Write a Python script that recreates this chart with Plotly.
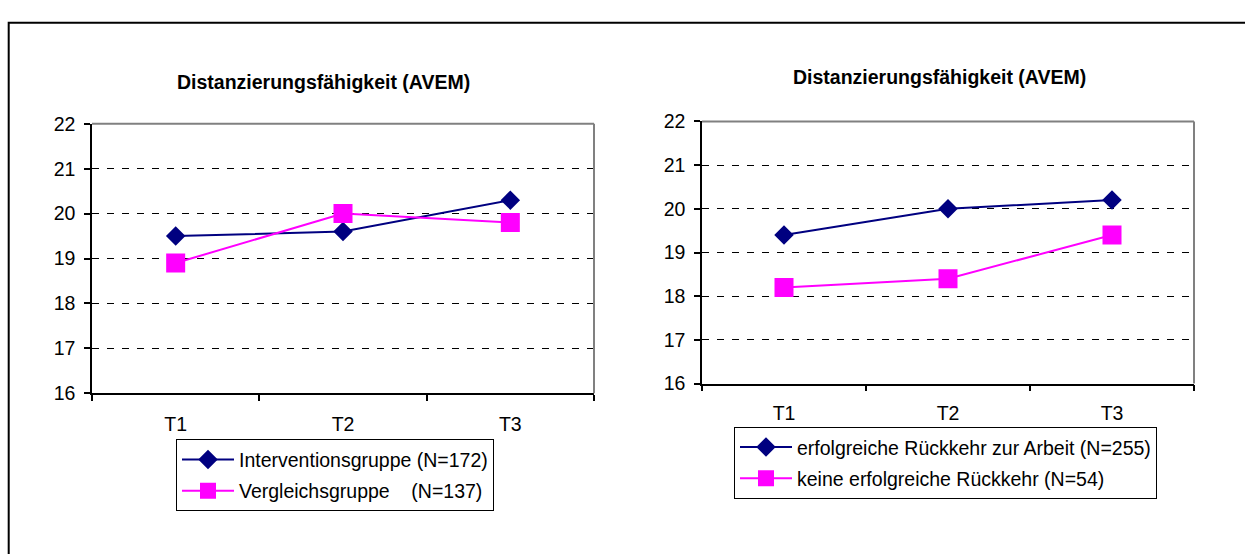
import plotly.graph_objects as go

W, H = 1245, 554

categories = ["T1", "T2", "T3"]
title_text = "Distanzierungsfähigkeit (AVEM)"

left_names = ["Interventionsgruppe (N=172)", "Vergleichsgruppe    (N=137)"]
left_interv = [19.5, 19.6, 20.3]
left_vergl = [18.9, 20.0, 19.8]

right_names = ["erfolgreiche Rückkehr zur Arbeit (N=255)", "keine erfolgreiche Rückkehr (N=54)"]
right_erfolg = [19.4, 20.0, 20.2]
right_keine = [18.2, 18.4, 19.4]

y_ticks = [16, 17, 18, 19, 20, 21, 22]

NAVY = "#000080"
PINK = "#FF00FF"
FONT = "Liberation Sans, Arial, sans-serif"
FS = 19.5


def px(x):
    return x / W


def py(y):
    return 1 - y / H


fig = go.Figure()

series = [
    (left_interv, left_names[0], NAVY, "diamond", 15, "x", "y", "legend", "g1"),
    (left_vergl, left_names[1], PINK, "square", 19, "x", "y", "legend", "g2"),
    (right_erfolg, right_names[0], NAVY, "diamond", 15, "x2", "y2", "legend2", "g3"),
    (right_keine, right_names[1], PINK, "square", 19, "x2", "y2", "legend2", "g4"),
]
for vals, name, col, sym, size, xa, ya, leg, grp in series:
    fig.add_trace(go.Scatter(
        x=categories, y=vals, name=name, mode="lines+markers",
        line=dict(color=col, width=2),
        marker=dict(color=col, symbol=sym, size=size, line=dict(width=0)),
        xaxis=xa, yaxis=ya, legend=leg, legendgroup=grp,
    ))

plots = {
    "": (92, 594, 117.5, 398, 13),
    "2": (702, 1194, 115, 388, 11),
}

axis_common_x = dict(
    type="category", range=[-0.5, 2.5], showline=True, linecolor="black", linewidth=1.5,
    ticks="outside", tickson="boundaries", ticklen=6, tickcolor="black", tickwidth=1.5,
    showgrid=False, zeroline=False, fixedrange=True,
    tickfont=dict(family=FONT, size=FS, color="black"),
)
axis_common_y = dict(
    range=[16, 22], tickvals=y_ticks, showline=True, linecolor="black", linewidth=1.5,
    ticks="outside", ticklen=6, tickcolor="black", tickwidth=1.5,
    showgrid=True, gridcolor="black", gridwidth=1, griddash="7px,8px",
    zeroline=False, fixedrange=True, ticklabelstandoff=5,
    tickfont=dict(family=FONT, size=FS, color="black"),
)

layout = dict(
    width=W, height=H, margin=dict(l=0, r=0, t=0, b=0),
    paper_bgcolor="white", plot_bgcolor="white", showlegend=True,
)
for suf, (x0, x1, y0, y1, so) in plots.items():
    layout["xaxis" + suf] = dict(axis_common_x, domain=[px(x0), px(x1)], anchor="y" + suf,
                                 ticklabelstandoff=so)
    layout["yaxis" + suf] = dict(axis_common_y, domain=[py(y1), py(y0)], anchor="x" + suf)

legend_common = dict(
    xanchor="left", yanchor="top",
    bordercolor="black", borderwidth=1, bgcolor="white",
    font=dict(family=FONT, size=FS, color="black"),
    traceorder="grouped", tracegroupgap=3, itemwidth=52,
)
layout["legend"] = dict(legend_common, x=px(176), y=py(446))
layout["legend2"] = dict(legend_common, x=px(734), y=py(433))

fig.update_layout(**layout)

# titles
for cx, cy in [(323, 73.5), (939.5, 69)]:
    fig.add_annotation(
        text="<b>" + title_text + "</b>", x=px(cx), y=py(cy), xref="paper", yref="paper",
        xanchor="center", yanchor="middle", showarrow=False,
        font=dict(family=FONT, size=FS, color="black"),
    )

shapes = []
# gray top/right plot borders
for suf in plots:
    xr = "x" + suf + " domain"
    yr = "y" + suf + " domain"
    shapes.append(dict(type="line", xref=xr, yref=yr, x0=0, x1=1, y0=1, y1=1,
                       line=dict(color="#808080", width=2), layer="above"))
    shapes.append(dict(type="line", xref=xr, yref=yr, x0=1, x1=1, y0=0, y1=1,
                       line=dict(color="#808080", width=2), layer="above"))
# outer frame
shapes.append(dict(type="rect", xref="paper", yref="paper",
                   x0=px(8.7), x1=px(1260), y0=py(12.3), y1=py(570),
                   line=dict(color="black", width=2), fillcolor="rgba(0,0,0,0)"))
fig.update_layout(shapes=shapes)

fig.write_html("out.html")
